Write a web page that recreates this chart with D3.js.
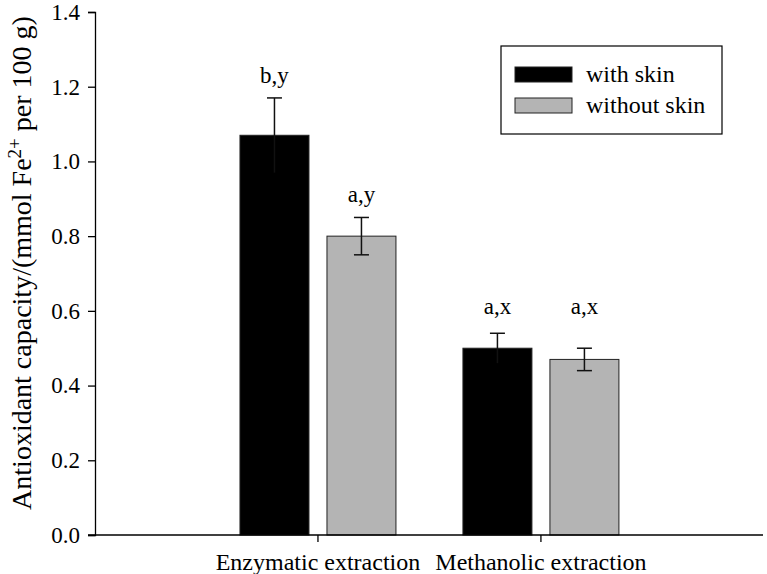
<!DOCTYPE html>
<html><head><meta charset="utf-8">
<script src="https://cdn.jsdelivr.net/npm/d3@7"></script>
<style>body{margin:0;background:#fff}svg text{font-family:"Liberation Serif","Times New Roman",serif;fill:#000}</style>
</head><body><svg id="c" width="767" height="574" font-family="Liberation Serif, serif"></svg>
<script>
const categories = ["Enzymatic extraction", "Methanolic extraction"];
const seriesNames = ["with skin", "without skin"];
const withSkin = [1.07, 0.50];
const withSkinErr = [0.10, 0.04];
const withoutSkin = [0.80, 0.47];
const withoutSkinErr = [0.05, 0.03];
const letters = [["b,y", "a,x"], ["a,y", "a,x"]];
const yTicks = [0, 0.2, 0.4, 0.6, 0.8, 1.0, 1.2, 1.4];
const colors = ["#000000", "#b4b4b4"];

const series = [
  {name: seriesNames[0], values: withSkin, errs: withSkinErr, color: colors[0], labels: letters[0]},
  {name: seriesNames[1], values: withoutSkin, errs: withoutSkinErr, color: colors[1], labels: letters[1]}
];

const FF = "Liberation Serif, Times New Roman, serif";
const svg = d3.select("#c");
const mLeft = 95, mRight = 763, mTop = 12, mBottom = 535, tick = 7;
const y = d3.scaleLinear().domain([0, 1.4]).range([mBottom, mTop]);
const x0 = d3.scaleBand().domain(categories).range([mLeft, mRight]).paddingInner(0).paddingOuter(0.498).align(0.502);
const x1 = d3.scaleBand().domain(seriesNames).range([0, x0.bandwidth()]).paddingInner(0.207).paddingOuter(0.385);

// bars
const g = svg.append("g");
series.forEach(s => {
  categories.forEach((c, i) => {
    const bx = x0(c) + x1(s.name);
    const bw = x1.bandwidth();
    g.append("rect").attr("x", bx).attr("y", y(s.values[i]))
      .attr("width", bw).attr("height", y(0) - y(s.values[i]))
      .attr("fill", s.color).attr("stroke", "#222").attr("stroke-width", 1);
    const cx = bx + bw / 2;
    const hi = y(s.values[i] + s.errs[i]), lo = y(s.values[i] - s.errs[i]);
    const ec = "#111";
    g.append("line").attr("x1", cx).attr("x2", cx).attr("y1", hi).attr("y2", lo).attr("stroke", ec).attr("stroke-width", 1.5);
    g.append("line").attr("x1", cx - 7.5).attr("x2", cx + 7.5).attr("y1", hi).attr("y2", hi).attr("stroke", ec).attr("stroke-width", 1.5);
    if (s.color !== "#000000") {
      g.append("line").attr("x1", cx - 7.5).attr("x2", cx + 7.5).attr("y1", lo).attr("y2", lo).attr("stroke", ec).attr("stroke-width", 1.5);
    }
    // letters: Methanolic group labels sit at a common height above the taller error bar
    const groupTop = i === 1 ? Math.min(...series.map(ss => y(ss.values[i] + ss.errs[i]))) - 19 : hi - 15;
    g.append("text").attr("x", cx).attr("y", groupTop).attr("text-anchor", "middle")
      .attr("font-family", FF).attr("font-size", 23).text(s.labels[i]);
  });
});

// y axis
const yAxis = d3.axisLeft(y).tickValues(yTicks).tickFormat(d3.format(".1f")).tickSizeOuter(0).tickSize(tick).tickPadding(8);
const ya = svg.append("g").attr("transform", `translate(${mLeft},0)`).call(yAxis);
ya.attr("font-family", FF).attr("font-size", 23);
ya.selectAll("text").attr("font-family", FF).attr("font-size", 23);
ya.selectAll("line,path").attr("stroke", "#000").attr("stroke-width", 1.3);

// x axis
const xAxis = d3.axisBottom(x0).tickSizeOuter(0).tickSize(tick).tickPadding(8);
const xa = svg.append("g").attr("transform", `translate(0,${mBottom})`).call(xAxis);
xa.attr("font-family", FF).attr("font-size", 24);
xa.select(".domain").remove();
xa.append("line").attr("x1", mLeft - tick).attr("x2", mRight).attr("y1", 0).attr("y2", 0).attr("stroke", "#000").attr("stroke-width", 1.3);
xa.selectAll("text").attr("font-family", FF).attr("font-size", 24).attr("dy", "0.85em");
xa.selectAll("line").attr("stroke", "#000").attr("stroke-width", 1.3);

// y title
const t = svg.append("text").attr("transform", "translate(31,263) rotate(-90)").attr("text-anchor", "middle")
  .attr("font-family", FF).attr("font-size", 28);
t.append("tspan").text("Antioxidant capacity/(mmol Fe");
t.append("tspan").attr("baseline-shift", "super").attr("font-size", 19).text("2+");
t.append("tspan").text(" per 100 g)");

// legend
const lg = svg.append("g");
lg.append("rect").attr("x", 501).attr("y", 46).attr("width", 221).attr("height", 88).attr("fill", "#fff").attr("stroke", "#000").attr("stroke-width", 1.2);
series.forEach((s, i) => {
  lg.append("rect").attr("x", 515).attr("y", 67 + i * 31).attr("width", 57).attr("height", 15)
    .attr("fill", s.color).attr("stroke", "#222").attr("stroke-width", 1);
  lg.append("text").attr("x", 586).attr("y", 82 + i * 31).attr("font-family", FF).attr("font-size", 24).text(s.name);
});
</script></body></html>
